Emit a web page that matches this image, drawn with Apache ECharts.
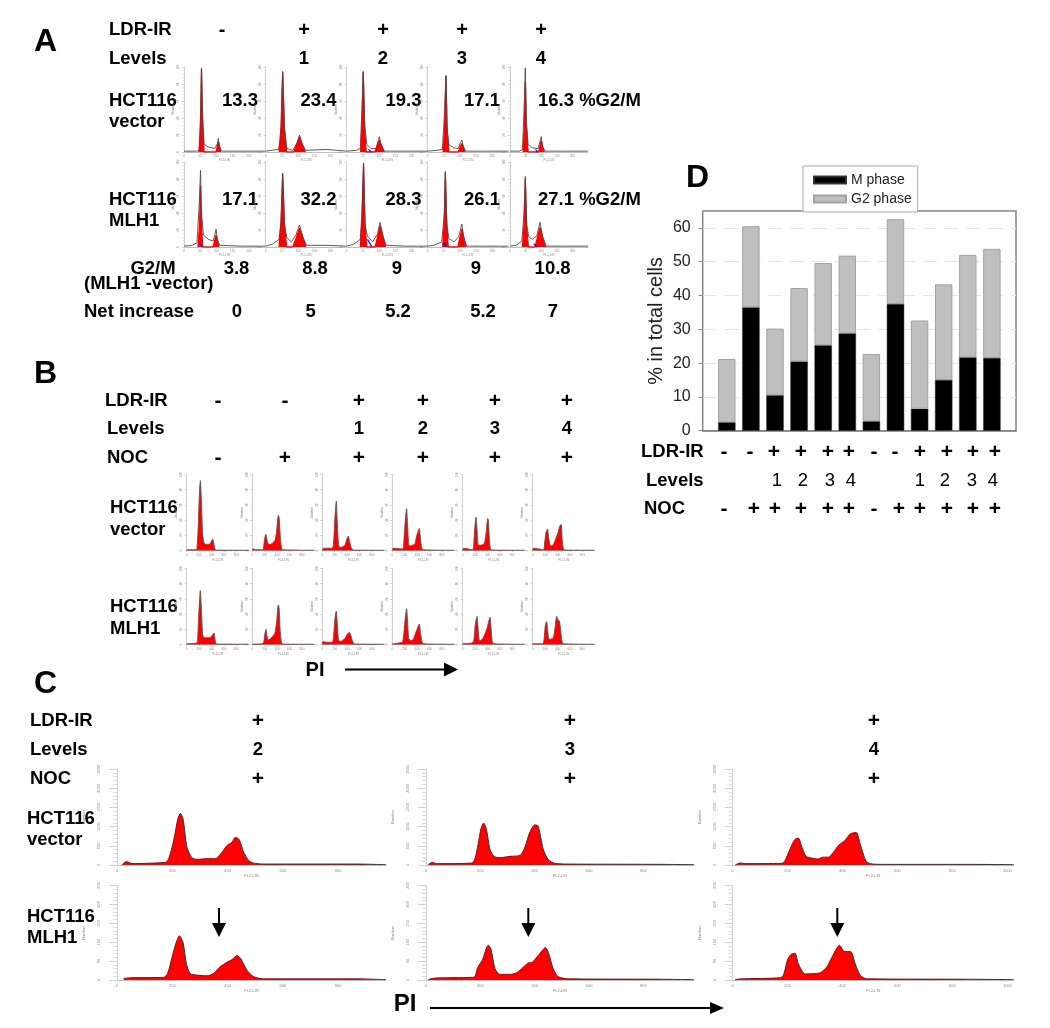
<!DOCTYPE html>
<html><head><meta charset="utf-8">
<style>html,body{margin:0;padding:0;background:#fff}#c{width:1050px;height:1028px;filter:blur(0.6px)}</style>
<script src="https://cdn.jsdelivr.net/npm/echarts@6/dist/echarts.min.js"></script>
</head><body><div id="c"></div>
<script>
// ---------- Panel D values ----------
const sampleNames = ['', 'V1','V2','V3','V4','V5','V6','M1','M2','M3','M4','M5','M6', ''];
const mPhase = [null,2.5,36.5,10.5,20.5,25.3,28.8,2.8,37.5,6.5,15,21.7,21.5,null];
const g2Phase = [null,18.7,24,19.7,21.7,24.3,23,19.9,25.1,26.1,28.3,30.3,32.3,null];
const dLdr = ['-','-','+','+','+','+','-','-','+','+','+','+'];
const dLevels = ['','','1','2','3','4','','','1','2','3','4'];
const dNoc = ['-','+','+','+','+','+','-','+','+','+','+','+'];
// ---------- Panel A values ----------
const aGroups = ['-','+','+','+','+'];
const aLevels = ['','1','2','3','4'];
const aVector = ['13.3','23.4','19.3','17.1','16.3 %G2/M'];
const aMlh1 = ['17.1','32.2','28.3','26.1','27.1 %G2/M'];
const aDiff = ['3.8','8.8','9','9','10.8'];
const aNet = ['0','5','5.2','5.2','7'];
// red = fitted G1/G2 peaks, hist = measured outline, blue = S-phase fit
const aV1Red=[[46,0],[51,30],[54,97],[57,30],[62,0],[99,0],[103,7],[106,12],[109,7],[113,0]];
const aV1Hist=[[0,1],[40,1],[48,3],[52,60],[54,99],[57,50],[62,9],[75,6],[95,4],[103,10],[106,16],[110,6],[116,1],[180,1],[250,1]];
const aV2Red=[[42,0],[48,30],[53,94],[58,30],[65,0],[87,0],[97,9],[105,18],[113,9],[123,0]];
const aV2Hist=[[0,1],[20,2],[40,3],[48,20],[53,95],[59,25],[66,4],[85,2],[97,11],[105,20],[114,9],[124,2],[190,3],[250,1]];
const aV3Red=[[43,0],[47,30],[51,94],[55,30],[60,0],[87,0],[95,8],[101,14],[107,8],[116,0]];
const aV3Hist=[[0,1],[30,2],[42,4],[47,50],[51,95],[56,30],[62,9],[75,4],[90,4],[98,14],[101,18],[106,8],[116,1],[180,1],[250,1]];
const aV3Blue=[[67,3],[77,0]];
const aV4Red=[[48,0],[53,30],[57,89],[60,30],[66,0],[95,0],[101,6],[106,10],[110,6],[116,0]];
const aV4Hist=[[0,1],[30,2],[46,3],[53,50],[57,90],[61,25],[66,9],[80,5],[95,4],[102,11],[106,14],[111,6],[118,1],[180,1],[250,1]];
const aV5Red=[[42,0],[46,30],[49,82],[52,30],[58,0],[92,0],[96,7],[100,13],[104,7],[110,0]];
const aV5Hist=[[0,1],[30,1],[40,3],[46,60],[49,99],[53,35],[58,9],[72,5],[90,4],[96,12],[100,18],[105,6],[112,1],[180,1],[250,1]];
const aV5Blue=[[82,3],[88,0]];
const aM1Red=[[43,0],[48,25],[51,72],[54,25],[58,0],[90,0],[95,8],[99,14],[103,8],[108,0]];
const aM1Hist=[[0,1],[25,2],[40,5],[47,50],[51,90],[54,40],[60,14],[75,9],[90,7],[95,14],[99,21],[103,9],[110,2],[180,1],[250,1]];
const aM1Blue=[[49,5],[56,0]];
const aM2Red=[[42,0],[48,30],[53,85],[58,30],[65,0],[84,0],[95,11],[105,22],[115,11],[125,0]];
const aM2Hist=[[0,1],[20,3],[42,9],[48,30],[53,87],[59,25],[66,11],[80,6],[94,14],[105,26],[116,11],[127,2],[190,2],[250,1]];
const aM3Red=[[42,0],[47,30],[52,97],[56,30],[62,0],[88,0],[96,13],[103,25],[111,13],[120,0]];
const aM3Hist=[[0,1],[20,3],[42,9],[47,40],[52,99],[57,25],[64,13],[80,6],[95,15],[103,29],[112,13],[122,2],[180,1],[250,1]];
const aM3Blue=[[64,9],[78,0]];
const aM4Red=[[47,0],[52,30],[55,87],[59,30],[64,0],[94,0],[100,11],[106,21],[112,11],[119,0]];
const aM4Hist=[[0,1],[20,2],[44,6],[52,40],[55,89],[60,25],[66,10],[82,6],[96,12],[106,27],[113,9],[121,1],[180,1],[250,1]];
const aM4Blue=[[49,5],[58,0]];
const aM5Red=[[40,0],[45,25],[49,80],[53,25],[59,0],[80,0],[88,11],[96,23],[104,11],[114,0]];
const aM5Hist=[[0,1],[20,2],[38,7],[45,40],[49,83],[54,25],[60,12],[72,9],[86,13],[96,29],[105,12],[116,1],[180,1],[250,1]];
const aM5Blue=[[76,4],[86,0]];
// ---------- Panel B values ----------
const bLdr = ['-','-','+','+','+','+'];
const bLevels = ['','','1','2','3','4'];
const bNoc = ['-','+','+','+','+','+'];
const bV1=[[0,1],[150,1],[165,2],[185,30],[205,75],[220,92],[235,70],[255,25],[275,11],[310,8],[350,8],[385,10],[419,15],[435,10],[455,2],[480,0.5],[1000,0.3]];
const bV2=[[0,2],[25,2],[50,1],[170,1],[190,10],[210,20],[220,21],[235,15],[255,9],[285,8],[330,10],[365,13],[392,25],[419,46],[432,44],[450,20],[470,4],[490,1],[1000,0.3]];
const bV3=[[0,1],[20,3],[160,3],[180,8],[205,45],[226,65],[240,40],[262,8],[285,4],[330,5],[366,7],[395,15],[419,19],[440,12],[470,3],[510,0.5],[1000,0.3]];
const bV4=[[0,1],[15,3],[170,2],[185,10],[210,40],[231,55],[245,35],[265,8],[285,6],[330,7],[366,9],[395,20],[435,29],[450,20],[470,5],[495,1],[1000,0.3]];
const bV5=[[0,1],[15,3],[160,1],[175,5],[195,30],[215,44],[230,30],[250,7],[280,7],[330,8],[355,11],[380,25],[403,42],[415,40],[432,12],[450,2],[480,0.5],[1000,0.3]];
const bV6=[[0,1],[15,3],[175,1],[190,8],[215,24],[242,28],[255,18],[280,7],[306,6],[340,9],[375,16],[414,25],[440,33],[462,34],[475,15],[495,2],[520,0.5],[1000,0.3]];
const bM1=[[0,1],[160,2],[175,5],[195,40],[220,71],[235,50],[255,15],[270,10],[310,9],[376,9],[410,12],[441,15],[458,6],[475,1],[520,0.5],[1000,0.3]];
const bM2=[[0,0.5],[150,1],[185,3],[205,15],[220,20],[235,12],[255,6],[285,7],[330,11],[365,15],[395,32],[419,52],[432,48],[450,17],[470,3],[495,0.5],[1000,0.3]];
const bM3=[[0,1],[15,4],[60,3],[160,3],[180,10],[205,35],[226,44],[240,30],[262,6],[296,4],[335,6],[366,8],[400,13],[436,16],[460,12],[485,5],[510,1],[550,0.5],[1000,0.3]];
const bM4=[[0,1],[160,3],[180,10],[210,35],[231,47],[245,32],[265,8],[296,5],[340,7],[375,15],[400,20],[435,27],[455,15],[475,5],[500,1],[1000,0.3]];
const bM5=[[0,1],[150,2],[180,6],[205,28],[231,37],[245,25],[265,6],[285,5],[325,8],[360,14],[395,22],[441,36],[455,25],[475,5],[500,1],[1000,0.3]];
const bM6=[[0,1],[160,1],[180,5],[205,26],[226,30],[240,20],[262,7],[290,7],[333,9],[360,22],[387,37],[405,33],[430,31],[450,20],[470,5],[495,1],[1000,0.3]];
// ---------- Panel C values ----------
const cLevels = ['2','3','4'];
const cV1=[[18,0],[34,90],[54,40],[175,70],[187,165],[205,640],[220,1200],[229,1345],[239,1200],[253,465],[271,190],[289,147],[325,165],[355,165],[380,335],[398,510],[416,595],[428,725],[442,665],[458,335],[476,120],[494,50],[530,25],[867,25],[973,8]];
const cV2=[[9,9],[23,70],[39,35],[168,50],[180,165],[192,550],[202,940],[212,1095],[222,940],[235,420],[250,225],[272,190],[309,225],[346,250],[364,465],[382,855],[401,1045],[413,1010],[431,420],[450,138],[474,43],[523,25],[866,17],[986,8]];
const cV3=[[9,0],[27,52],[45,35],[179,43],[191,120],[209,420],[227,670],[239,700],[252,465],[267,225],[288,180],[309,155],[330,205],[349,205],[367,335],[385,510],[409,640],[428,810],[450,845],[464,550],[485,103],[501,35],[537,17],[853,17],[1023,8]];
const cM1=[[24,4],[48,6],[169,7],[183,17],[199,60],[214,99],[226,117],[239,99],[251,43],[265,17],[289,13],[325,11],[349,17],[373,35],[398,47],[416,54],[434,65],[448,56],[470,26],[494,9],[530,3],[867,3],[973,1]];
const cM2=[[9,1],[31,5],[168,7],[180,9],[190,33],[207,52],[229,92],[239,82],[254,30],[272,15],[309,15],[333,19],[352,30],[376,45],[391,47],[413,65],[440,86],[452,69],[468,30],[486,9],[523,3],[866,2],[986,1]];
const cM3=[[9,1],[29,3],[173,6],[185,13],[199,52],[211,67],[227,71],[239,43],[264,16],[300,17],[321,20],[343,35],[361,60],[389,92],[406,76],[430,75],[446,43],[464,13],[488,3],[853,2],[1023,1]];

// ---------- Layout ----------
const BF='"Liberation Sans", Arial, sans-serif';
const FS=18.5;
const grids=[],xAxes=[],yAxes=[],series=[],graphic=[];
function text(s,x,y,o){o=o||{};graphic.push({type:'text',x:x,y:y,silent:true,style:{text:s,fill:'#000',
  font:(o.w||'bold')+' '+(o.s||FS)+'px '+BF,align:o.a||'left',verticalAlign:'middle'}});}
function ctext(s,x,y,o){text(s,x,y,Object.assign({a:'center'},o||{}));}
function panel(left,top,w,h,xMax,yMax,xInt,yInt,fs,layers,tick,o){
  const i=grids.length;
  grids.push({left:left,top:top,width:w,height:h,containLabel:false});
  xAxes.push({type:'value',gridIndex:i,min:0,max:xMax,interval:xInt,splitLine:{show:false},
    axisLine:{show:true,onZero:false,lineStyle:{color:'#bdbdbd',width:1}},
    axisTick:{show:true,length:1.5,lineStyle:{color:'#cfcfcf'}},
    minorTick:{show:false},
    axisLabel:{fontSize:fs,color:'#8a8a8a',margin:o.xm,showMaxLabel:false,fontFamily:BF,formatter:v=>String(v)},
    name:'FL2-LIN',nameLocation:'middle',nameGap:o.xn,nameTextStyle:{fontSize:fs,color:'#8a8a8a',fontFamily:BF}});
  yAxes.push({type:'value',gridIndex:i,min:0,max:yMax,interval:yInt,splitLine:{show:false},
    axisLine:{show:true,onZero:false,lineStyle:{color:'#cfcfcf',width:1}},
    axisTick:{show:true,length:tick,lineStyle:{color:'#d2d2d2'}},
    minorTick:{show:true,splitNumber:5,length:tick/2,lineStyle:{color:'#dedede'}},
    axisLabel:{fontSize:fs,color:'#8a8a8a',margin:o.ym,rotate:90,fontFamily:BF,formatter:v=>String(v)},
    name:'Number',nameLocation:'middle',nameGap:o.yn,nameTextStyle:{fontSize:fs,color:'#777',fontFamily:BF}});
  layers.forEach(l=>series.push(Object.assign({type:'line',xAxisIndex:i,yAxisIndex:i,data:l.d,showSymbol:false,
    silent:true,animation:false,smooth:l.sm||false,lineStyle:{color:l.c,width:l.lw||0.8},z:l.z||2},
    l.f?{areaStyle:{color:l.f,opacity:1}}:{})));
}
// Panel A grids
const aLefts=[184,265.5,346.7,427.5,510];
const aTops=[67,162];
const aRows=[
 [[aV1Red,aV1Hist],[aV2Red,aV2Hist],[aV3Red,aV3Hist,aV3Blue],[aV4Red,aV4Hist],[aV5Red,aV5Hist,aV5Blue]],
 [[aM1Red,aM1Hist,aM1Blue],[aM2Red,aM2Hist],[aM3Red,aM3Hist,aM3Blue],[aM4Red,aM4Hist,aM4Blue],[aM5Red,aM5Hist,aM5Blue]]
];
aRows.forEach((row,r)=>row.forEach((p,c)=>{
  const L=[{d:p[0],c:'#ff0000',f:'#ff0000',lw:1.3,z:2},{d:p[1],c:'#4a4a4a',lw:0.9,z:3}];
  if(p[2])L.push({d:p[2],c:'#1020e0',lw:1.4,z:4});
  panel(aLefts[c],aTops[r],c===4?78:81,85,250,100,50,20,3,L,2,{xm:3,xn:7,ym:4,yn:9});
}));
// Panel B grids
const bLefts=[186.7,252.3,322.3,392.3,462.7,532.7];
const bTops=[474.5,568.5];
const bRows=[[bV1,bV2,bV3,bV4,bV5,bV6],[bM1,bM2,bM3,bM4,bM5,bM6]];
bRows.forEach((row,r)=>row.forEach((d,c)=>{
  panel(bLefts[c],bTops[r],62,76,1000,100,200,20,3,[{d:d,c:'#555',f:'#ff0000',lw:0.9,sm:0.2}],2,{xm:3,xn:8,ym:4,yn:9});
}));
// Panel C grids
const cLefts=[117,426,732.7];
const cWidths=[269,268,281];
const cMaxes=[973,986,1023];
const cTops=[769,885.5];
const cRows=[[cV1,cV2,cV3],[cM1,cM2,cM3]];
const cYMax=[2500,250], cYInt=[500,50];
cRows.forEach((row,r)=>row.forEach((d,c)=>{
  panel(cLefts[c],cTops[r],cWidths[c],r?94.5:96,cMaxes[c],cYMax[r],200,cYInt[r],4,[{d:d,c:'#333',f:'#ff0000',lw:1,sm:0.25}],8,{xm:4,xn:9,ym:16,yn:31});
}));
// Panel D grid
const di=grids.length;
grids.push({left:702.7,top:211,width:313.3,height:219.7,show:true,borderColor:'#858585',borderWidth:1.5,backgroundColor:'#fff',containLabel:false});
xAxes.push({type:'category',gridIndex:di,data:sampleNames,boundaryGap:false,axisLabel:{show:false},axisTick:{show:false},
  axisLine:{show:true,lineStyle:{color:'#858585',width:1.5}},splitLine:{show:false}});
yAxes.push({type:'value',gridIndex:di,min:0,max:65,interval:10,
  axisLabel:{fontSize:16,color:'#222',margin:12,showMaxLabel:false,fontFamily:BF},
  axisLine:{show:false},axisTick:{show:true,length:4,lineStyle:{color:'#858585'}},
  splitLine:{show:true,showMinLine:false,showMaxLine:false,lineStyle:{color:'#e4e4e4',width:1.2,type:[14,8]}},
  name:'% in total cells',nameLocation:'middle',nameGap:36,nameTextStyle:{fontSize:20,color:'#222',fontFamily:BF}});
series.push({name:'M phase',type:'bar',stack:'d',xAxisIndex:di,yAxisIndex:di,data:mPhase,barWidth:17.4,animation:false,silent:true,
  itemStyle:{color:'#000',borderColor:'#333',borderWidth:0.5},z:3});
series.push({name:'G2 phase',type:'bar',stack:'d',xAxisIndex:di,yAxisIndex:di,data:g2Phase,barWidth:17.4,animation:false,silent:true,
  itemStyle:{color:'#bfbfbf',borderColor:'#a2a2a2',borderWidth:1},z:3});

// ---------- Text ----------
text('A',34,42,{s:32});text('B',34,374,{s:32});text('C',34,684,{s:32});text('D',686,178,{s:32});
// A
text('LDR-IR',109,30);text('Levels',109,59);
const aSignX=[222,304,383,462,541], aVecX=[222,300.5,385.5,464,538], aDiffX=[236.5,315,397,476,552.6], aNetX=[237,310.6,398,483,553];
aGroups.forEach((s,i)=>ctext(s,aSignX[i],30,{s:20}));
aLevels.forEach((s,i)=>ctext(s,aSignX[i],59));
aVector.forEach((s,i)=>text(s,aVecX[i],101));
aMlh1.forEach((s,i)=>text(s,aVecX[i],200));
text('HCT116',109,101);text('vector',109,122);text('HCT116',109,200);text('MLH1',109,221);
ctext('G2/M',153,269);text('(MLH1 -vector)',84,284);text('Net increase',84,312);
aDiff.forEach((s,i)=>ctext(s,aDiffX[i],269));
aNet.forEach((s,i)=>ctext(s,aNetX[i],312));
// B
text('LDR-IR',105,401);text('Levels',107,429);text('NOC',107,458);
const bSignX=[218,285,359,423,495,567];
bLdr.forEach((s,i)=>ctext(s,bSignX[i],401,{s:21}));
bLevels.forEach((s,i)=>ctext(s,bSignX[i],429));
bNoc.forEach((s,i)=>ctext(s,bSignX[i],458,{s:21}));
text('HCT116',110,508);text('vector',110,530);text('HCT116',110,607);text('MLH1',110,629);
ctext('PI',315,670,{s:20});
// C
text('LDR-IR',30,721);text('Levels',30,750);text('NOC',30,779);
const cSignX=[258,570,874];
cLevels.forEach((s,i)=>{ctext('+',cSignX[i],721,{s:21});ctext(s,cSignX[i],750);ctext('+',cSignX[i],779,{s:21});});
text('HCT116',27,819);text('vector',27,840);text('HCT116',27,917);text('MLH1',27,938);
ctext('PI',405,1004,{s:24});
// D
text('LDR-IR',641,452);text('Levels',646,481);text('NOC',644,509);
const dSignX=[724,750,774,801,828,849,874,895,920,947,973,995];
const dSignX3=[724,754,775,801,828,849,874,899,920,947,973,995];
const dLevelX=[0,0,777,803,830,851,0,0,920,945,972,993];
dLdr.forEach((s,i)=>ctext(s,dSignX[i],452,{s:21}));
dLevels.forEach((s,i)=>{if(s)ctext(s,dLevelX[i],481,{w:'normal'});});
dNoc.forEach((s,i)=>ctext(s,dSignX3[i],509,{s:21}));
// arrows
function hArrow(x1,x2,y,hl,hh){
  graphic.push({type:'line',silent:true,shape:{x1:x1,y1:y,x2:x2-hl,y2:y},style:{stroke:'#000',lineWidth:2}});
  graphic.push({type:'polygon',silent:true,shape:{points:[[x2-hl,y-hh],[x2,y],[x2-hl,y+hh]]},style:{fill:'#000'}});
}
function dArrow(x,y1,y2){
  graphic.push({type:'line',silent:true,shape:{x1:x,y1:y1,x2:x,y2:y2-14},style:{stroke:'#000',lineWidth:2}});
  graphic.push({type:'polygon',silent:true,shape:{points:[[x-7,y2-14],[x+7,y2-14],[x,y2]]},style:{fill:'#000'}});
}
hArrow(345,458,669.5,14,7);
hArrow(430,724,1008,14,6);
[219,528.3,837.3].forEach(x=>dArrow(x,908,937));

const chart=echarts.init(document.getElementById('c'),null,{renderer:'canvas'});
chart.setOption({backgroundColor:'#fff',animation:false,grid:grids,xAxis:xAxes,yAxis:yAxes,series:series,graphic:graphic,
  tooltip:{show:false},
  legend:{data:[{name:'M phase',icon:'rect'},{name:'G2 phase',icon:'rect'}],left:803,top:166,orient:'vertical',padding:[7,6,6,10],itemGap:5,itemWidth:32,itemHeight:7,
    borderColor:'#a8a8a8',borderWidth:1,backgroundColor:'#fff',textStyle:{fontSize:14,color:'#222',fontFamily:BF},selectedMode:false}
});
</script></body></html>
